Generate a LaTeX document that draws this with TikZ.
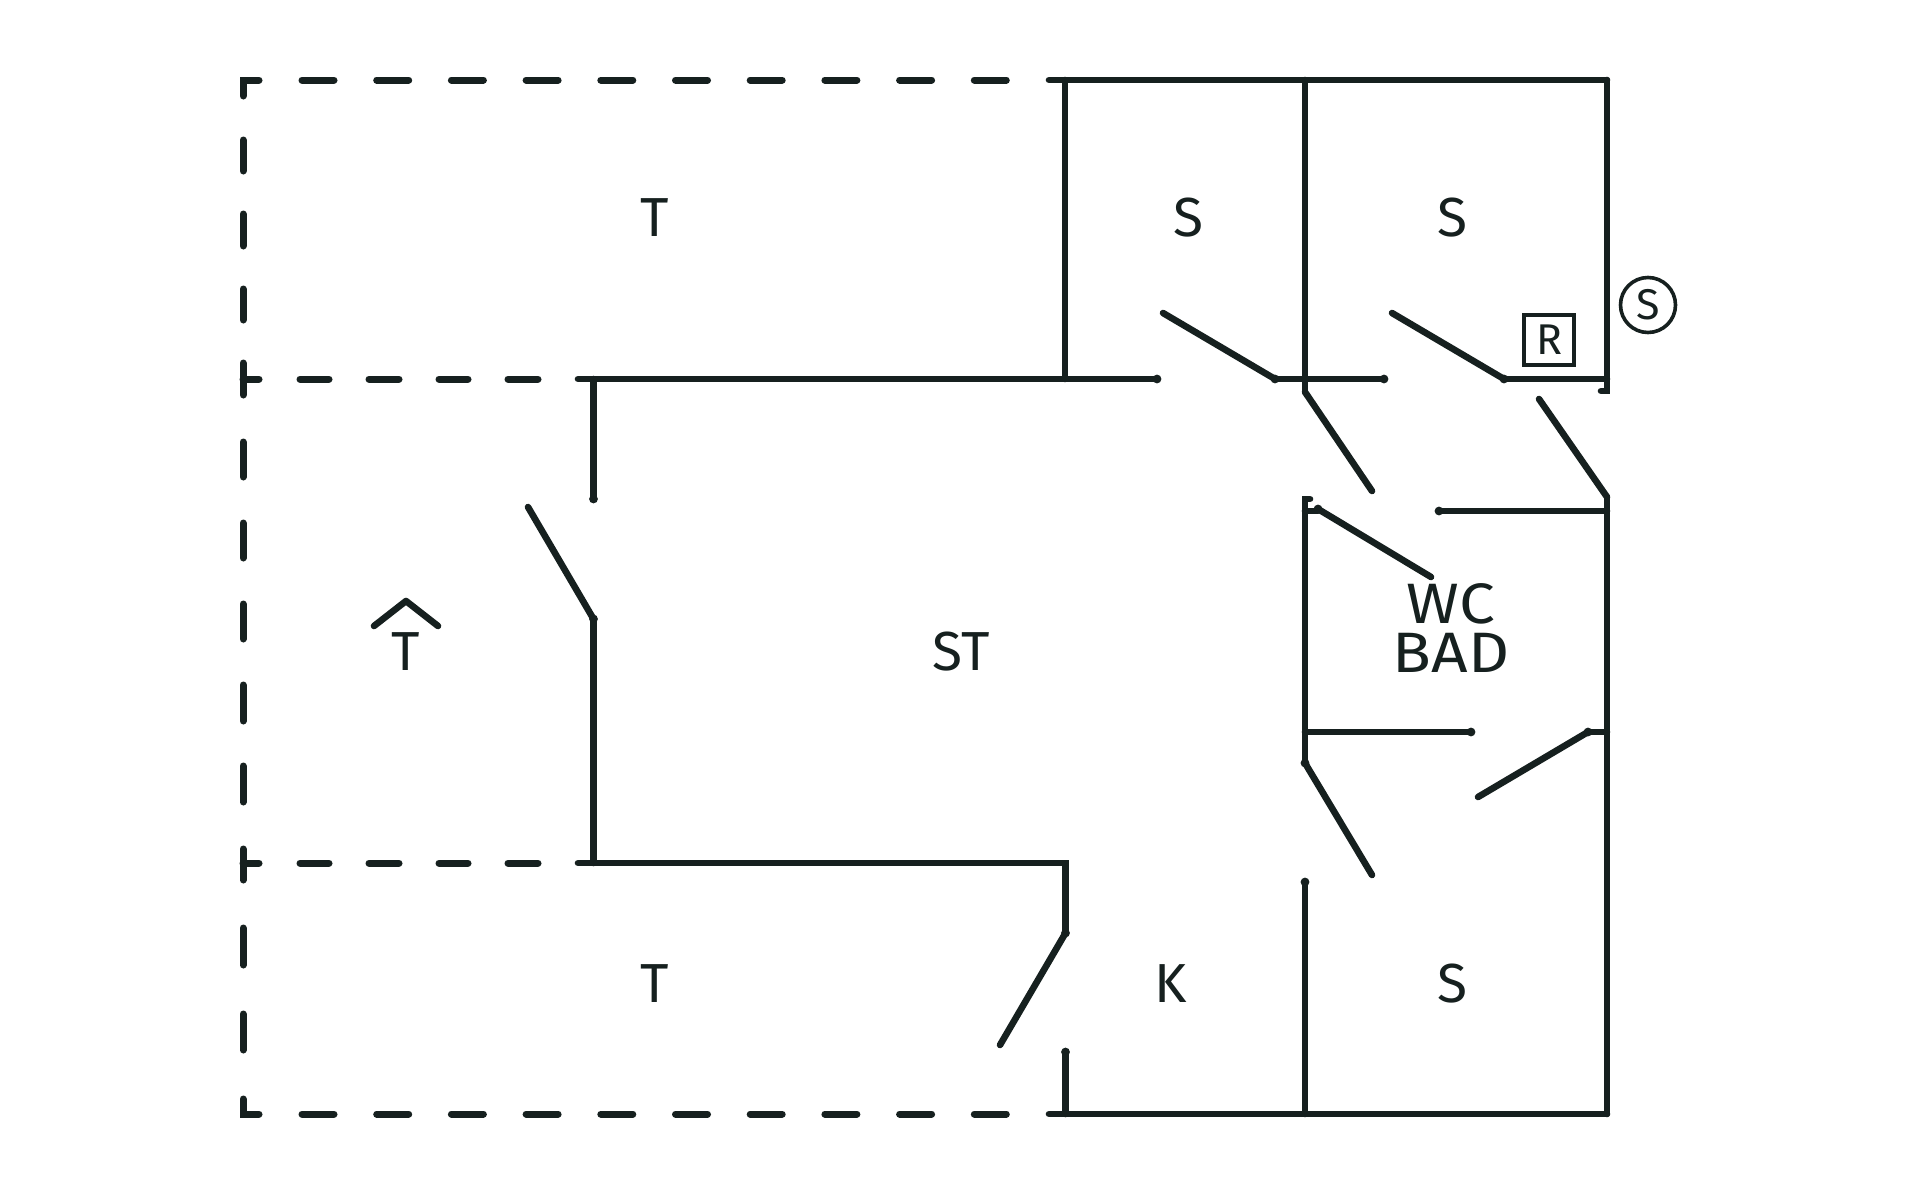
\documentclass[tikz,border=0pt]{standalone}
\usepackage{fontspec}
\setmainfont{Fira Sans}
\newfontfamily\widefont{Fira Sans}[FakeStretch=1.12]
\definecolor{ink}{HTML}{16201F}
\tikzset{
  wall/.style={draw=ink,line width=6.6pt,line cap=round,line join=miter},
  door/.style={draw=ink,line width=6.6pt,line cap=round},
  dashh/.style={draw=ink,line width=7pt,line cap=round},
  pivot/.style={fill=ink,draw=none},
  lab/.style={inner sep=0pt,anchor=base,text=ink,font=\fontsize{55}{49}\selectfont},
  mini/.style={inner sep=0pt,text=ink,font=\fontsize{43}{43}\selectfont}
}
\begin{document}
\begin{tikzpicture}[x=1pt,y=-1pt]
\useasboundingbox (0,0) rectangle (1920,1200);
% dashed outline
\foreach \y in {80,1114}{
  \foreach \i in {0,...,9}{
    \draw[dashh] ({299+74.7*\i+3},\y) -- ({299+74.7*\i+35},\y);
  }
}
\draw[dashh] (243,96) -- (243,80) -- (259,80);
\draw[dashh] (243,1099) -- (243,1114) -- (259,1114);
\foreach \a/\b in {140/171,214/246,289/320,363/395,442/477,523/558,604/639,685/721,766/802,849/880,928/965,1014/1050}{ \draw[dashh] (243,\a) -- (243,\b); }
\draw[dashh] (243,379) -- (259,379);
\draw[dashh] (243,863) -- (259,863);
\foreach \a/\b in {300/329,369/399,439/468,508/538}{
  \draw[dashh] (\a,379) -- (\b,379);
  \draw[dashh] (\a,863) -- (\b,863);
}
% walls
\draw[wall] (1049,80) -- (1607,80);
\draw[wall] (1065,80) -- (1065,379);
\draw[wall] (1305,80) -- (1305,392);
\draw[wall] (1607,80) -- (1607,391) -- (1601,391);
\draw[wall] (578,379) -- (1157,379);
\draw[wall] (593.5,379) -- (593.5,499);
\draw[wall] (1275,379) -- (1384,379);
\draw[wall] (1504,379) -- (1607,379);
\draw[wall] (1439,511) -- (1607,511);
\draw[wall] (1310,499) -- (1305,499) -- (1305,763);
\draw[wall] (1305,511) -- (1318,511);
\draw[wall] (1607,497) -- (1607,1114);
\draw[wall] (1305,732) -- (1471,732);
\draw[wall] (1588,732) -- (1607,732);
\draw[wall] (1305,882) -- (1305,1114);
\draw[wall] (593.5,619) -- (593.5,863);
\draw[wall] (578,863) -- (1065.5,863) -- (1065.5,933);
\draw[wall] (1065.5,1052) -- (1065.5,1114);
\draw[wall] (1049,1114) -- (1607,1114);
% doors
\draw[door] (593.5,619) -- (528,507);
\draw[door] (1065.5,933) -- (1000,1045);
\draw[door] (1275,379) -- (1163,313);
\draw[door] (1504,379) -- (1392,313);
\draw[door] (1305,392) -- (1372,491);
\draw[door] (1607,497) -- (1539,399);
\draw[door] (1318,509) -- (1431,577);
\draw[door] (1305,763) -- (1372,875);
\draw[door] (1588,732) -- (1478,797);
\foreach \p in {(593.5,619),(1065.5,933),(1275,379),(1504,379),(1305,763),(1588,732),(1318,509),(1157,379),(1384,379),(1439,511),(1471,732),(593.5,499),(1305,882),(1065.5,1052)}{
  \fill[pivot] \p circle (4.4pt);
}
% roof mark
\draw[draw=ink,line width=6.6pt,line cap=round,line join=round] (374,626) -- (406,601) -- (438,626);
% labels
\node[lab] (t1) at (655,236) {T};
\node[lab] (s1) at (1188,236) {S};
\node[lab] (s2) at (1452,236) {S};
\node[lab] (st) at (961,670) {ST};
\node[lab] (t2) at (406,670) {T};
\node[lab] (t3) at (655,1002) {T};
\node[lab] (k) at (1171,1002) {K};
\node[lab] (s3) at (1452,1002) {S};
\node[lab,align=center,anchor=center,font=\widefont\fontsize{57}{49}\selectfont] (wc) at (1451,628) {WC\\BAD};
\node[mini,draw=ink,line width=4pt,minimum width=50pt,minimum height=50pt] (r) at (1549,339.5) {R};
\node[mini,draw=ink,line width=3.6pt,circle,minimum size=55pt] (sc) at (1648,305) {S};
\end{tikzpicture}
\end{document}
